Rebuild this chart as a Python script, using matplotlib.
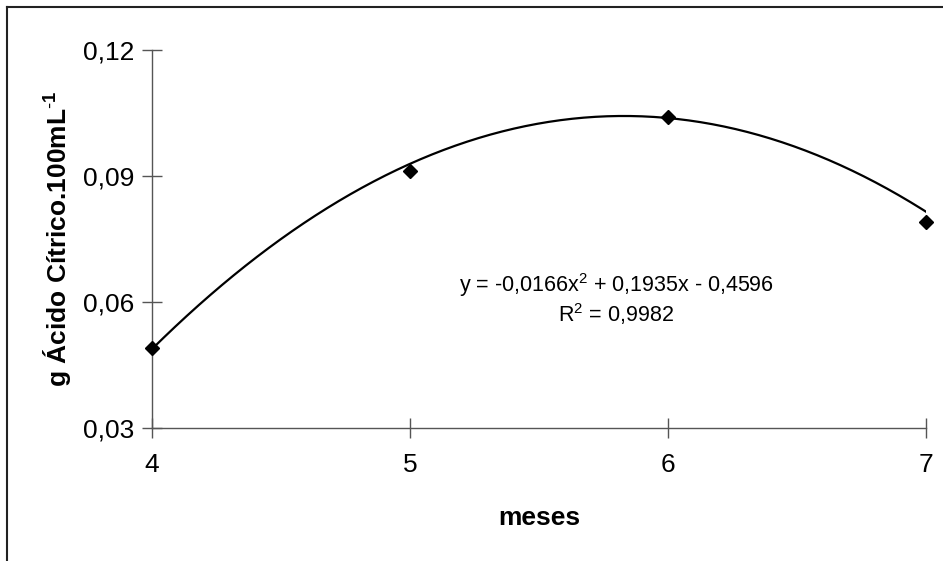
import numpy as np
import matplotlib
matplotlib.use("Agg")
import matplotlib.pyplot as plt
from matplotlib.lines import Line2D

plt.rcParams['font.family'] = ['Liberation Sans', 'DejaVu Sans']
plt.rcParams['mathtext.fontset'] = 'custom'
plt.rcParams['mathtext.rm'] = 'Liberation Sans'
plt.rcParams['mathtext.bf'] = 'Liberation Sans:bold'

months = [4, 5, 6, 7]
acid = [0.049, 0.0912, 0.104, 0.079]
coef = [-0.0166, 0.1935, -0.4596]  # quadratic trendline coefficients shown on chart
y_ticks = [0.03, 0.06, 0.09, 0.12]
y_tick_labels = ["0,03", "0,06", "0,09", "0,12"]
x_ticks = [4, 5, 6, 7]

W, H = 943, 561
fig = plt.figure(figsize=(W / 100, H / 100), dpi=100)
ax = fig.add_axes([152 / W, 1 - 428 / H, (926 - 152) / W, (428 - 50) / H])

xs = np.linspace(4, 7, 200)
ax.plot(xs, np.polyval(coef, xs), color='black', lw=1.6, zorder=2)
ax.plot(months, acid, linestyle='none', marker='D', color='black', ms=7.5, zorder=3, clip_on=False)

ax.set_xlim(4, 7)
ax.set_ylim(0.03, 0.12)
ax.set_xticks(x_ticks)
ax.set_xticklabels([str(v) for v in x_ticks])
ax.set_yticks(y_ticks)
ax.set_yticklabels(y_tick_labels)
for s in ['top', 'right']:
    ax.spines[s].set_visible(False)
for s in ['left', 'bottom']:
    ax.spines[s].set_color('#555555')
    ax.spines[s].set_linewidth(1.0)
ax.tick_params(direction='inout', length=14, width=1.0, color='#555555', labelsize=19, pad=6)
ax.tick_params(axis='x', pad=11)

ax.set_xlabel('meses', fontsize=19, fontweight='bold', labelpad=21)
ax.set_ylabel(r'g Ácido Cítrico.100mL$^{\mathbf{\text{-}1}}$', fontsize=19, fontweight='bold', labelpad=6)

ax.text(616 / W, 1 - 285 / H, r'y = -0,0166x$^2$ + 0,1935x - 0,4596', transform=fig.transFigure,
        ha='center', va='center', fontsize=15.5)
ax.text(616 / W, 1 - 314 / H, r'R$^2$ = 0,9982', transform=fig.transFigure,
        ha='center', va='center', fontsize=15.5)

# chart-area border (top and left visible; right/bottom cropped)
fig.add_artist(Line2D([7 / W, 7 / W], [0, 1 - 6.5 / H], transform=fig.transFigure, color='#222222', lw=1.5))
fig.add_artist(Line2D([7 / W, 1], [1 - 6.5 / H, 1 - 6.5 / H], transform=fig.transFigure, color='#222222', lw=1.5))

fig.savefig('out.png', dpi=100)
